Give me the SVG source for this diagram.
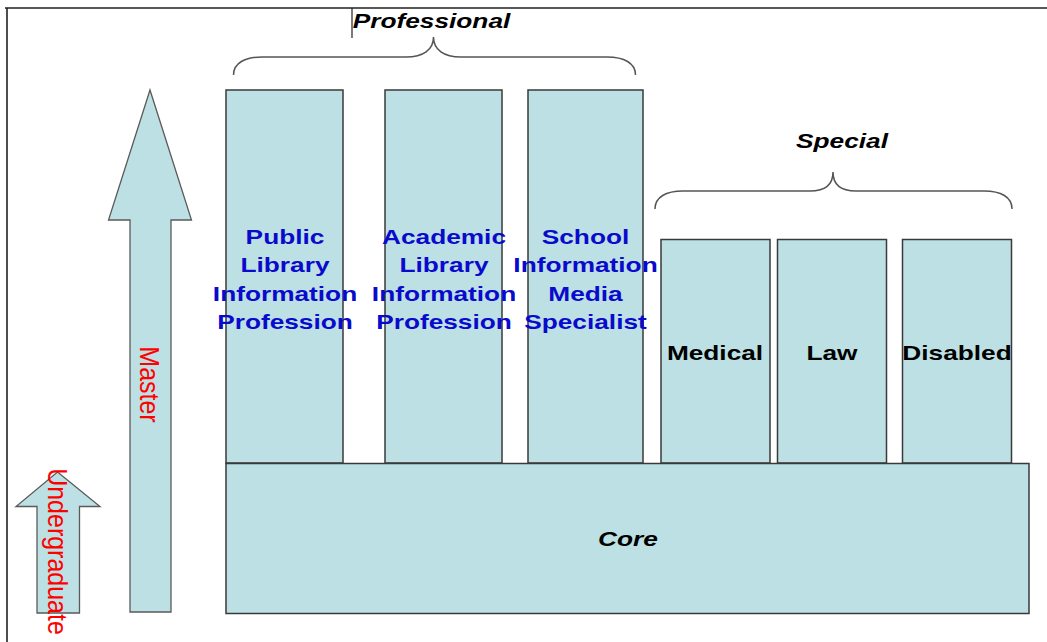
<svg xmlns="http://www.w3.org/2000/svg" width="1047" height="642" viewBox="0 0 1047 642">
<style>
.box{fill:#bce0e3;stroke:#3a3a3a;stroke-width:1.5}
.arrow{fill:#bce0e3;stroke:#5a5a5a;stroke-width:1.3}
.brace{fill:none;stroke:#555;stroke-width:1.5}
.frame{fill:none;stroke:#222;stroke-width:1.6}
text{font-family:"Liberation Sans",Arial,sans-serif;text-anchor:middle}
.blue{font-size:21px;font-weight:bold;fill:#0a0acc}
.blk{font-size:21px;font-weight:bold;fill:#000}
.ital{font-size:21px;font-weight:bold;font-style:italic;fill:#000}
.red{font-size:25px;fill:#ff0000}
</style>
<rect width="1047" height="642" fill="#fff"/>
<g id="frame">
<path class="frame" d="M5,8 H1047 M7,8 V642"/>
<path d="M352,8 V38" stroke="#222" stroke-width="1.2"/>
</g>
<g id="connectors">
<path class="brace" d="M233.5,75 C233.5,63 245,57 262,57 L406,57 C423,57 433.5,50 433.5,37 C433.5,50 444,57 461,57 L607,57 C624,57 635.5,63 635.5,75"/>
<path class="brace" d="M655,209 C655,197 666,191 683,191 L810,191 C825,191 833,185 833,172 C833,185 841,191 856,191 L984,191 C1001,191 1012,197 1012,209"/>
</g>
<g id="label-professional"><text class="ital" transform="translate(431.5,27.5) scale(1.25,1)">Professional</text></g>
<g id="label-special"><text class="ital" transform="translate(842,148) scale(1.25,1)">Special</text></g>
<g id="arrow-master">
<polygon class="arrow" points="150,90 191.5,220 171,220 171,612 130,612 130,220 108.5,220"/>
<text class="red" transform="translate(139.5,384.5) scale(1.12,1) rotate(90)">Master</text>
</g>
<g id="arrow-undergraduate">
<polygon class="arrow" points="57.5,472 100,506.5 79.5,506.5 79.5,613 37,613 37,506.5 16,506.5"/>
<text class="red" transform="translate(48,551.5) scale(1.08,1) rotate(90)">Undergraduate</text>
</g>
<g id="node-public">
<rect class="box" x="226" y="90" width="117" height="373"/>
<text class="blue" transform="translate(285,243.5) scale(1.25,1)">Public</text>
<text class="blue" transform="translate(285,272) scale(1.25,1)">Library</text>
<text class="blue" transform="translate(285,300.5) scale(1.25,1)">Information</text>
<text class="blue" transform="translate(285,328.5) scale(1.25,1)">Profession</text>
</g>
<g id="node-academic">
<rect class="box" x="385" y="90" width="117" height="373"/>
<text class="blue" transform="translate(444,243.5) scale(1.25,1)">Academic</text>
<text class="blue" transform="translate(444,272) scale(1.25,1)">Library</text>
<text class="blue" transform="translate(444,300.5) scale(1.25,1)">Information</text>
<text class="blue" transform="translate(444,328.5) scale(1.25,1)">Profession</text>
</g>
<g id="node-school">
<rect class="box" x="528" y="90" width="115" height="373"/>
<text class="blue" transform="translate(585.5,243.5) scale(1.25,1)">School</text>
<text class="blue" transform="translate(585.5,272) scale(1.25,1)">Information</text>
<text class="blue" transform="translate(585.5,300.5) scale(1.25,1)">Media</text>
<text class="blue" transform="translate(585.5,328.5) scale(1.25,1)">Specialist</text>
</g>
<g id="node-medical">
<rect class="box" x="661" y="239.5" width="109" height="223.5"/>
<text class="blk" transform="translate(715,360) scale(1.25,1)">Medical</text>
</g>
<g id="node-law">
<rect class="box" x="777.5" y="239.5" width="109" height="223.5"/>
<text class="blk" transform="translate(832,360) scale(1.25,1)">Law</text>
</g>
<g id="node-disabled">
<rect class="box" x="902.5" y="239.5" width="109" height="223.5"/>
<text class="blk" transform="translate(957,360) scale(1.25,1)">Disabled</text>
</g>
<g id="node-core">
<rect class="box" x="226" y="463.5" width="803" height="150"/>
<text class="ital" transform="translate(628,546) scale(1.25,1)">Core</text>
</g>
</svg>
